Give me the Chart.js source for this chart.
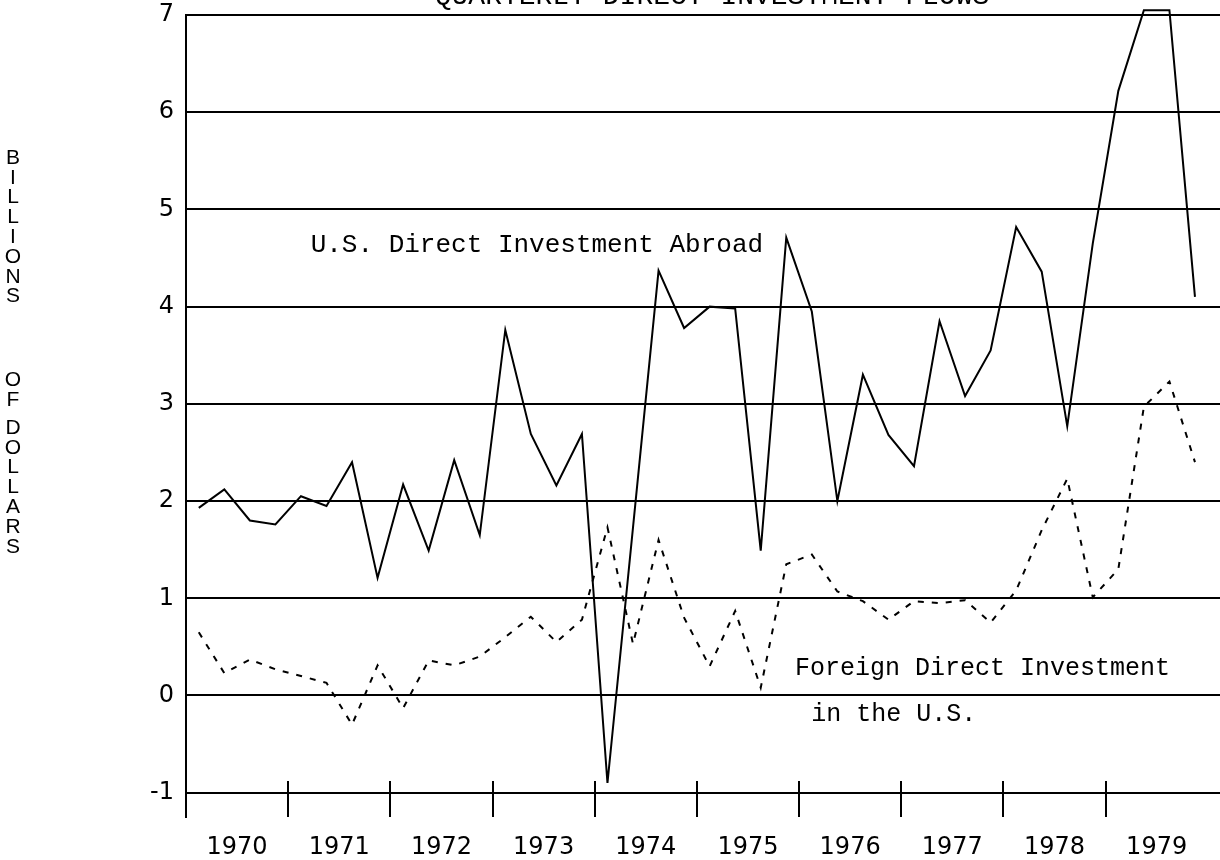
<!DOCTYPE html>
<html>
<head>
<meta charset="utf-8">
<script src="https://cdn.jsdelivr.net/npm/chart.js@4.4.1/dist/chart.umd.min.js"></script>
<style>
html,body{margin:0;padding:0;background:#ffffff;}
canvas{display:block;}
</style>
</head>
<body>
<canvas id="c" width="1220" height="860"></canvas>
<script>
// ---------------- data ----------------
const years = [1970, 1971, 1972, 1973, 1974, 1975, 1976, 1977, 1978, 1979];
const quarters = ["Q1", "Q2", "Q3", "Q4"];
const yTicks = [-1, 0, 1, 2, 3, 4, 5, 6, 7];

// U.S. Direct Investment Abroad (billions of dollars, quarterly)
const usAbroad = [
  1.93, 2.12, 1.80, 1.76,   // 1970
  2.05, 1.95, 2.40, 1.21,   // 1971
  2.17, 1.49, 2.42, 1.65,   // 1972
  3.76, 2.69, 2.16, 2.69,   // 1973
  -0.90, 1.73, 4.37, 3.78,  // 1974
  4.00, 3.98, 1.49, 4.71,   // 1975
  3.95, 2.00, 3.30, 2.68,   // 1976
  2.36, 3.85, 3.08, 3.55,   // 1977
  4.82, 4.36, 2.77, 4.65,   // 1978
  6.22, 7.05, 7.05, 4.10    // 1979
];

// Foreign Direct Investment in the U.S.
const foreignInUS = [
  0.65, 0.23, 0.37, 0.27,   // 1970
  0.20, 0.13, -0.30, 0.31,  // 1971
  -0.13, 0.36, 0.31, 0.40,  // 1972
  0.60, 0.81, 0.55, 0.78,   // 1973
  1.73, 0.53, 1.60, 0.80,   // 1974
  0.30, 0.87, 0.08, 1.35,   // 1975
  1.45, 1.07, 0.97, 0.78,   // 1976
  0.97, 0.95, 0.98, 0.75,   // 1977
  1.08, 1.70, 2.23, 1.01,   // 1978
  1.30, 2.97, 3.23, 2.40    // 1979
];

const chartTitle = "QUARTERLY DIRECT INVESTMENT FLOWS";
const yTitleWords = ["BILLIONS", "OF", "DOLLARS"];
const labelAbroad = "U.S. Direct Investment Abroad";
const labelForeign1 = "Foreign Direct Investment";
const labelForeign2 = "in the U.S.";

// quarter mid-points in years (category positions)
const quarterTimes = years.flatMap(y => quarters.map((q, i) => y + (i + 0.5) / 4));

// ---------------- decorations ----------------
const decor = {
  id: 'decor',
  afterDraw(chart) {
    const ctx = chart.ctx;
    const xs = chart.scales.x, ys = chart.scales.y;
    const area = chart.chartArea;
    ctx.save();
    ctx.strokeStyle = '#000';
    ctx.fillStyle = '#000';
    // year boundary tick marks
    ctx.lineWidth = 2;
    const tickTop = ys.getPixelForValue(-0.88);
    years.forEach(y => {
      const px = Math.round(xs.getPixelForValue(y));
      ctx.beginPath();
      ctx.moveTo(px, tickTop);
      ctx.lineTo(px, area.bottom);
      ctx.stroke();
    });
    // title (cut off at the top edge)
    ctx.font = '28px "Liberation Mono", monospace';
    ctx.textAlign = 'center';
    ctx.textBaseline = 'alphabetic';
    ctx.fillText(chartTitle, 712, 4);
    // series annotations
    ctx.font = '26px "Liberation Mono", monospace';
    ctx.textAlign = 'left';
    ctx.textBaseline = 'middle';
    ctx.fillText(labelAbroad, xs.getPixelForValue(1971.22), ys.getPixelForValue(4.63));
    ctx.font = '25px "Liberation Mono", monospace';
    ctx.fillText(labelForeign1, xs.getPixelForValue(1975.96), ys.getPixelForValue(0.28));
    ctx.fillText(labelForeign2, xs.getPixelForValue(1976.12), ys.getPixelForValue(-0.19));
    // vertical stacked y-axis title
    ctx.font = '21px "Liberation Sans", sans-serif';
    ctx.textAlign = 'center';
    ctx.textBaseline = 'middle';
    const wordTops = [158, 380, 428];
    yTitleWords.forEach((w, wi) => {
      [...w].forEach((ch, i) => ctx.fillText(ch, 13, wordTops[wi] + i * 19.8));
    });
    ctx.restore();
  }
};

// ---------------- chart ----------------
new Chart(document.getElementById('c').getContext('2d'), {
  type: 'line',
  data: {
    datasets: [
      {
        label: labelAbroad,
        data: usAbroad.map((v, i) => ({ x: quarterTimes[i], y: v })),
        borderColor: '#000',
        borderWidth: 2,
        pointRadius: 0,
        tension: 0,
        fill: false,
        clip: false
      },
      {
        label: labelForeign1 + ' ' + labelForeign2,
        data: foreignInUS.map((v, i) => ({ x: quarterTimes[i], y: v })),
        borderColor: '#000',
        borderWidth: 2,
        borderDash: [6, 8],
        pointRadius: 0,
        tension: 0,
        fill: false
      }
    ]
  },
  options: {
    responsive: false,
    animation: false,
    layout: { padding: { top: 15, right: 0, left: 0, bottom: 0 } },
    plugins: {
      legend: { display: false },
      tooltip: { enabled: false },
      title: { display: false }
    },
    scales: {
      x: {
        type: 'linear',
        min: 1970,
        max: 1980.12,
        grid: { display: false },
        border: { display: false },
        afterBuildTicks: s => { s.ticks = years.map(y => ({ value: y + 0.5 })); },
        ticks: {
          autoSkip: false,
          maxRotation: 0,
          padding: 8,
          color: '#000',
          font: { family: 'DejaVu Sans', size: 24 },
          callback: v => String(Math.floor(v))
        },
        afterFit: s => { s.height = 43; s.paddingLeft = 0; s.paddingRight = 0; }
      },
      y: {
        min: -1.25,
        max: 7,
        afterBuildTicks: s => { s.ticks = yTicks.map(v => ({ value: v })); },
        grid: { color: '#000', lineWidth: 2, drawTicks: false },
        border: { color: '#000', width: 2 },
        ticks: {
          padding: 12,
          color: '#000',
          font: { family: 'DejaVu Sans', size: 24 },
          callback: v => String(v)
        },
        afterFit: s => { s.width = 186; s.paddingTop = 0; s.paddingBottom = 0; }
      }
    }
  },
  plugins: [decor]
});
</script>
</body>
</html>
